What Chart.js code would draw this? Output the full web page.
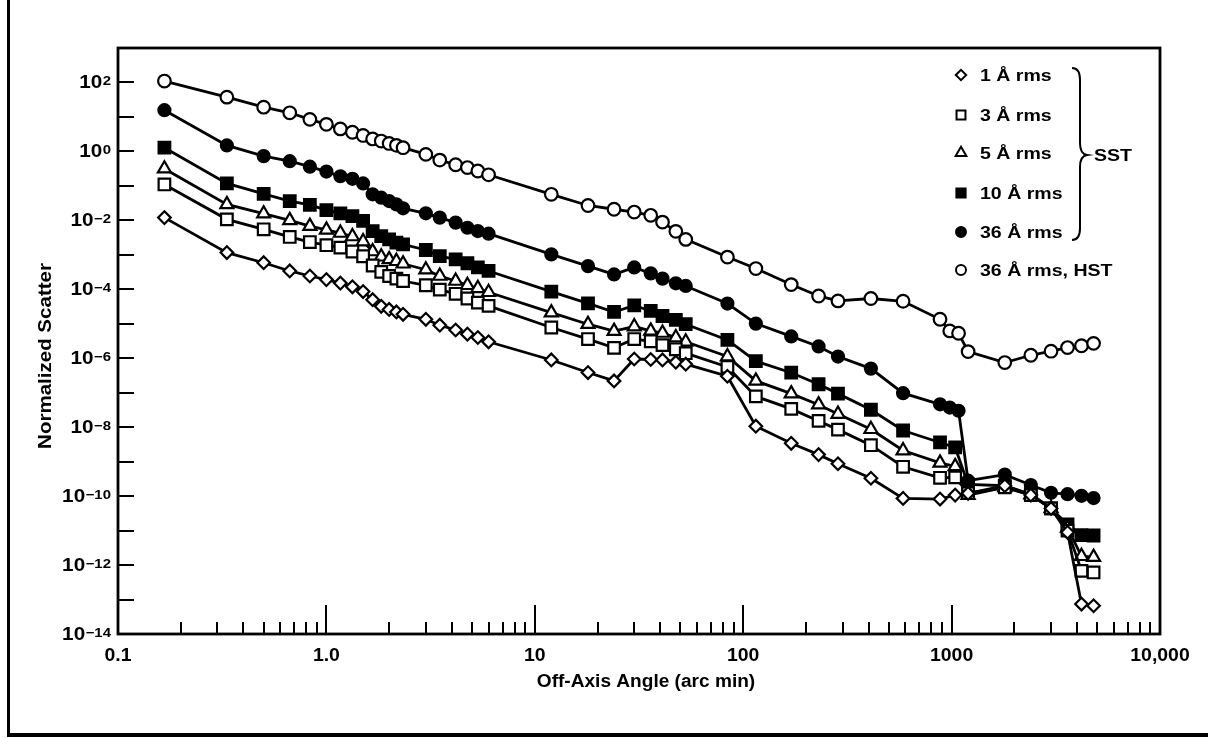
<!DOCTYPE html>
<html>
<head>
<meta charset="utf-8">
<script src="https://cdn.jsdelivr.net/npm/chart.js@4"></script>
<style>
  html, body { margin: 0; padding: 0; background: #fff; }
  #chart { display: block; }
</style>
</head>
<body>
<canvas id="chart" width="1208" height="738"></canvas>
<script>
// off-axis angle, arc min (shared grid, null = no point on that curve)
const angle = [0.167, 0.333, 0.5, 0.667, 0.833, 1.0, 1.167, 1.333, 1.5, 1.667,
  1.833, 2.0, 2.167, 2.333, 3.0, 3.5, 4.17, 4.75, 5.33, 6.0,
  12, 18, 24, 30, 36, 41, 47.5, 53, 84, 115,
  170, 230, 285, 410, 585, 880, 980, 1040, 1080, 1200,
  1800, 2400, 3000, 3600, 4200, 4800];

const rms1 = [0.012, 1.16e-3, 5.9e-4, 3.4e-4, 2.43e-4, 1.91e-4, 1.51e-4, 1.18e-4, 8.6e-5, 5.0e-5,
  3.2e-5, 2.6e-5, 2.2e-5, 1.88e-5, 1.35e-5, 9.1e-6, 6.6e-6, 5.0e-6, 4.0e-6, 3.0e-6,
  8.9e-7, 3.85e-7, 2.2e-7, 9.5e-7, 9.2e-7, 8.9e-7, 7.7e-7, 6.7e-7, 3.0e-7, 1.07e-8,
  3.4e-9, 1.6e-9, 8.7e-10, 3.3e-10, 8.6e-11, 8.2e-11, null, 1.07e-10, null, 1.2e-10,
  2.0e-10, 1.07e-10, 4.4e-11, 8.9e-12, 7.4e-14, 6.6e-14];

const rms3 = [0.11, 0.0107, 0.0055, 0.0033, 0.00235, 0.0019, 0.00162, 0.00125, 9.1e-4, 4.9e-4,
  3.2e-4, 2.43e-4, 2.04e-4, 1.74e-4, 1.31e-4, 9.8e-5, 7.4e-5, 5.4e-5, 4.1e-5, 3.3e-5,
  7.8e-6, 3.6e-6, 2.0e-6, 3.6e-6, 3.1e-6, 2.4e-6, 1.82e-6, 1.4e-6, 5.6e-7, 7.8e-8,
  3.4e-8, 1.52e-8, 8.5e-9, 3.0e-9, 7.1e-10, 3.4e-10, null, 3.5e-10, null, 1.22e-10,
  1.8e-10, 1.07e-10, 4.4e-11, 1.0e-11, 6.8e-13, 6.1e-13];

const rms5 = [0.315, 0.029, 0.0156, 0.01, 0.0068, 0.0053, 0.0043, 0.0034, 0.00243, 0.00125,
  8.8e-4, 7.4e-4, 6.5e-4, 5.5e-4, 3.7e-4, 2.43e-4, 1.74e-4, 1.31e-4, 1.07e-4, 8.2e-5,
  2.1e-5, 9.7e-6, 6.1e-6, 8.3e-6, 6.2e-6, 5.4e-6, 4.0e-6, 3.0e-6, 1.12e-6, 2.2e-7,
  9.4e-8, 4.5e-8, 2.4e-8, 8.7e-9, 2.1e-9, 9.2e-10, null, 7.3e-10, null, 1.07e-10,
  1.8e-10, 1.1e-10, 4.4e-11, 1.2e-11, 1.8e-12, 1.7e-12];

const rms10 = [1.28, 0.118, 0.059, 0.036, 0.028, 0.0199, 0.016, 0.0133, 0.0096, 0.0049,
  0.0035, 0.0028, 0.00226, 0.00201, 0.00138, 9.2e-4, 7.4e-4, 5.7e-4, 4.3e-4, 3.4e-4,
  8.6e-5, 3.9e-5, 2.2e-5, 3.4e-5, 2.35e-5, 1.68e-5, 1.29e-5, 9.7e-6, 3.4e-6, 8.2e-7,
  3.8e-7, 1.76e-7, 9.4e-8, 3.2e-8, 8.0e-9, 3.6e-9, null, 2.6e-9, null, 2.2e-10,
  2.0e-10, 1.14e-10, 4.4e-11, 1.5e-11, 7.4e-12, 7.2e-12];

const rms36 = [15.7, 1.49, 0.73, 0.52, 0.36, 0.26, 0.19, 0.16, 0.118, 0.057,
  0.0455, 0.0362, 0.0291, 0.0223, 0.016, 0.012, 0.0086, 0.0061, 0.0049, 0.0041,
  1.03e-3, 4.7e-4, 2.7e-4, 4.3e-4, 2.9e-4, 2.04e-4, 1.49e-4, 1.25e-4, 3.85e-5, 1.01e-5,
  4.3e-6, 2.2e-6, 1.12e-6, 5.0e-7, 9.7e-8, 4.6e-8, 3.7e-8, null, 3.0e-8, 2.8e-10,
  4.2e-10, 2.1e-10, 1.25e-10, 1.14e-10, 1.02e-10, 8.8e-11];

const rms36hst = [110, 37.5, 19.2, 13.2, 8.5, 6.1, 4.5, 3.6, 2.9, 2.3,
  2.0, 1.7, 1.5, 1.28, 0.82, 0.56, 0.41, 0.34, 0.27, 0.21,
  0.057, 0.027, 0.021, 0.0174, 0.014, 0.0089, 0.0048, 0.0028, 8.6e-4, 4.0e-4,
  1.37e-4, 6.4e-5, 4.6e-5, 5.4e-5, 4.5e-5, 1.35e-5, 6.2e-6, null, 5.3e-6, 1.56e-6,
  7.5e-7, 1.22e-6, 1.6e-6, 2.04e-6, 2.3e-6, 2.7e-6];

const seriesNames = ['1 Å rms', '3 Å rms', '5 Å rms', '10 Å rms', '36 Å rms', '36 Å rms, HST'];
const xTickValues = [0.1, 1, 10, 100, 1000, 10000];
const xTickLabels = ['0.1', '1.0', '10', '100', '1000', '10,000'];
const yLabelExps = [2, 0, -2, -4, -6, -8, -10, -12, -14];

const FONT = '"Liberation Sans", Arial, Helvetica, sans-serif';

const toPoints = (vals) => angle.map((a, i) => ({ x: a, y: vals[i] })).filter(p => p.y !== null);

const styles = [
  { pointStyle: 'rectRot', radius: 6.3, fill: '#fff' },
  { pointStyle: 'rect', radius: 8.2, fill: '#fff' },
  { pointStyle: 'triangle', radius: 7.5, fill: '#fff' },
  { pointStyle: 'rect', radius: 8.2, fill: '#000' },
  { pointStyle: 'circle', radius: 6, fill: '#000' },
  { pointStyle: 'circle', radius: 6.3, fill: '#fff' }
];
const legendMarks = [
  { pointStyle: 'rectRot', radius: 5.2 },
  { pointStyle: 'rect', radius: 6.3 },
  { pointStyle: 'triangle', radius: 6.2 },
  { pointStyle: 'rect', radius: 6.5 },
  { pointStyle: 'circle', radius: 5 },
  { pointStyle: 'circle', radius: 5 }
];

const allSeries = [rms1, rms3, rms5, rms10, rms36, rms36hst];

function wideText(ctx, str, x, y, size, align, base, sx, rot) {
  ctx.save();
  ctx.translate(x, y);
  if (rot) ctx.rotate(rot);
  ctx.scale(sx, 1);
  ctx.font = 'bold ' + size + 'px ' + FONT;
  ctx.textAlign = align;
  ctx.textBaseline = base;
  ctx.fillText(str, 0, 0);
  ctx.restore();
}

const paperPlugin = {
  id: 'paper',
  beforeDraw(chart) {
    const ctx = chart.ctx;
    ctx.save();
    ctx.fillStyle = '#fff';
    ctx.fillRect(0, 0, chart.width, chart.height);
    ctx.fillStyle = '#000';
    ctx.fillRect(7, 0, 3, 737);
    ctx.fillRect(7, 733, chart.width - 7, 4);
    ctx.restore();
  },
  afterDraw(chart) {
    const ctx = chart.ctx;
    const xs = chart.scales.x, ys = chart.scales.y;
    const a = chart.chartArea;
    ctx.save();
    ctx.strokeStyle = '#000';
    ctx.fillStyle = '#000';

    // inward ticks
    ctx.lineWidth = 2;
    ctx.beginPath();
    for (let k = -13; k <= 2; k++) {
      const y = Math.round(ys.getPixelForValue(Math.pow(10, k)));
      ctx.moveTo(a.left, y); ctx.lineTo(a.left + 16, y);
    }
    for (let d = -1; d <= 3; d++) {
      for (let m = 1; m <= 9; m++) {
        const v = m * Math.pow(10, d);
        if (v <= 0.1) continue;
        const x = Math.round(xs.getPixelForValue(v));
        ctx.moveTo(x, a.bottom); ctx.lineTo(x, a.bottom - (m === 1 ? 29 : 12));
      }
    }
    ctx.stroke();

    // frame
    ctx.lineWidth = 2.8;
    ctx.strokeRect(a.left, a.top, a.right - a.left, a.bottom - a.top);

    // x tick labels
    xTickValues.forEach((v, i) => {
      wideText(ctx, xTickLabels[i], xs.getPixelForValue(v), 656, 18, 'center', 'middle', 1.08);
    });

    // y tick labels 10^k
    yLabelExps.forEach((k) => {
      const y = ys.getPixelForValue(Math.pow(10, k));
      const ex = k < 0 ? '\u2212' + (-k) : String(k);
      ctx.font = 'bold 13px ' + FONT;
      const ew = ctx.measureText(ex).width * 1.15;
      const right = 111;
      wideText(ctx, ex, right - ew, y - 7.5, 13, 'left', 'top', 1.15);
      wideText(ctx, '10', right - ew - 0.5, y + 1, 18, 'right', 'middle', 1.15);
    });

    // axis titles
    wideText(ctx, 'Off-Axis Angle (arc min)', 646, 682, 18, 'center', 'middle', 1.06);
    wideText(ctx, 'Normalized Scatter', 46, 356, 19, 'center', 'middle', 1.08, -Math.PI / 2);

    // legend
    const rows = [75, 115, 153, 193, 232, 270];
    rows.forEach((y, i) => {
      ctx.save();
      ctx.lineWidth = 2;
      ctx.strokeStyle = '#000';
      ctx.fillStyle = styles[i].fill;
      Chart.helpers.drawPoint(ctx, {
        pointStyle: legendMarks[i].pointStyle, radius: legendMarks[i].radius,
        rotation: 0, borderWidth: 2
      }, 961, y);
      ctx.restore();
      wideText(ctx, seriesNames[i], 980, y + 1, 17, 'left', 'middle', 1.15);
    });

    // brace for SST group
    ctx.lineWidth = 2;
    ctx.beginPath();
    ctx.moveTo(1072, 68);
    ctx.quadraticCurveTo(1080, 68, 1080, 80);
    ctx.lineTo(1080, 143);
    ctx.quadraticCurveTo(1080, 154, 1087, 155);
    ctx.quadraticCurveTo(1080, 156, 1080, 167);
    ctx.lineTo(1080, 228);
    ctx.quadraticCurveTo(1080, 240, 1072, 240);
    ctx.stroke();
    wideText(ctx, 'SST', 1094, 156, 17, 'left', 'middle', 1.15);

    ctx.restore();
  }
};

const datasets = allSeries.map((vals, i) => ({
  label: seriesNames[i],
  data: toPoints(vals),
  borderColor: '#000',
  borderWidth: 2.8,
  tension: 0,
  fill: false,
  pointStyle: styles[i].pointStyle,
  pointRadius: styles[i].radius,
  pointBackgroundColor: styles[i].fill,
  pointBorderColor: '#000',
  pointBorderWidth: 2.2
}));

new Chart(document.getElementById('chart'), {
  type: 'line',
  data: { datasets },
  options: {
    responsive: false,
    animation: false,
    devicePixelRatio: 1,
    layout: { padding: { left: 30, right: 48, top: 48, bottom: 43 } },
    plugins: { legend: { display: false }, tooltip: { enabled: false } },
    scales: {
      x: {
        type: 'logarithmic', position: 'bottom', min: 0.1, max: 10000,
        ticks: { display: false }, grid: { display: false }, border: { display: false },
        afterFit(s) { s.height = 61; }
      },
      y: {
        type: 'logarithmic', position: 'left', min: 1e-14, max: 1e3,
        ticks: { display: false }, grid: { display: false }, border: { display: false },
        afterFit(s) { s.width = 88; }
      }
    }
  },
  plugins: [paperPlugin]
});
</script>
</body>
</html>
